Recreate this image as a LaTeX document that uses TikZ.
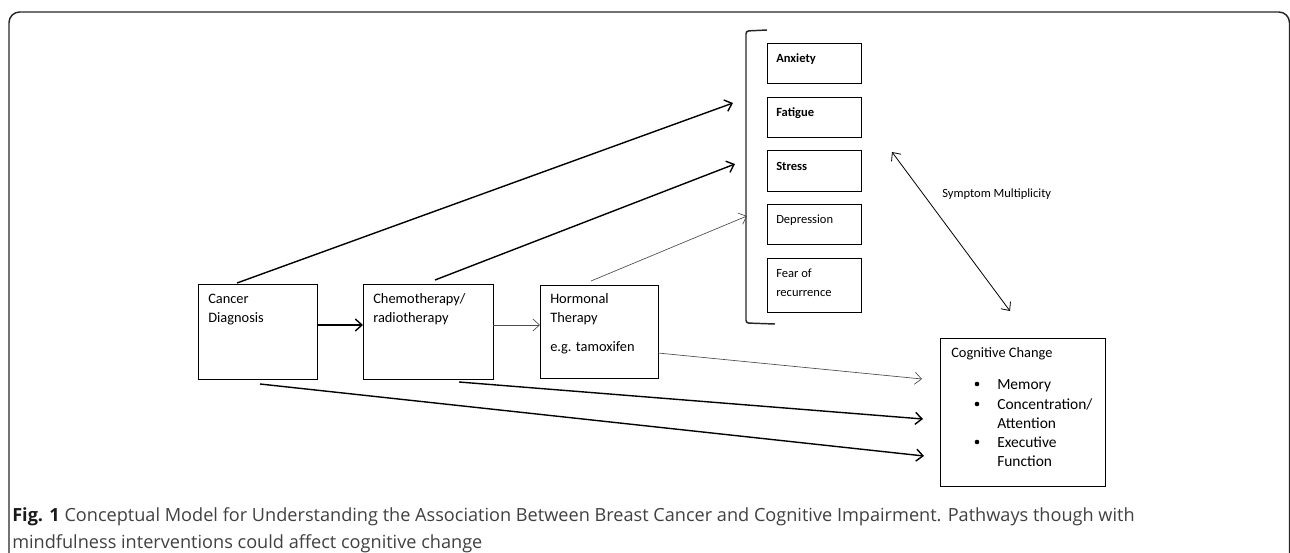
\documentclass[tikz,border=0pt]{standalone}
\usepackage{fontspec}
\setmainfont{Carlito}
\newfontfamily\capfont{Open Sans}
\usetikzlibrary{arrows.meta,calc}
\begin{document}
\begin{tikzpicture}[x=0.75pt,y=-0.75pt,
  box/.style={draw=black,line width=0.75pt,inner sep=0pt,anchor=north west},
  txt/.style={anchor=base west,inner sep=0pt,font=\fontsize{10.8pt}{13pt}\selectfont},
  btxt/.style={anchor=base west,inner sep=0pt,font=\fontsize{11.6pt}{14pt}\selectfont},
  stxt/.style={anchor=base west,inner sep=0pt,font=\fontsize{9.4pt}{12pt}\selectfont},
  thickarr/.style={line width=1.05pt,-{Straight Barb[length=5pt,width=9pt,line width=1.05pt]}},
  thinarr/.style={line width=0.5pt,draw=black!70,-{Straight Barb[length=5pt,width=9pt,line width=0.5pt]}},
  dblarr/.style={line width=0.6pt,{Straight Barb[length=5pt,width=9pt,line width=0.6pt]}-{Straight Barb[length=5pt,width=9pt,line width=0.6pt]}}
]
\useasboundingbox (0,0) rectangle (1290,553);
% outer frame
\draw[line width=1.1pt,black!85,rounded corners=8] (9,560) -- (9,12) -- (1289.5,12) -- (1289.5,560);

% main boxes
\node[box,minimum width=119*0.75pt,minimum height=95*0.75pt] (cd) at (198,284) {};
\node[box,minimum width=130*0.75pt,minimum height=95*0.75pt] (ch) at (363,284) {};
\node[box,minimum width=118*0.75pt,minimum height=93*0.75pt] (ht) at (540,285) {};
\node[txt] (cdt1) at (208,303) {Cancer};
\node[txt] (cdt2) at (208,322) {Diagnosis};
\node[txt] (cht1) at (373,303) {Chemotherapy/};
\node[txt] (cht2) at (373,322) {radiotherapy};
\node[txt] (htt1) at (550,303) {Hormonal};
\node[txt] (htt2) at (550,322) {Therapy};
\node[txt] (htt3) at (550,351) {e.g. tamoxifen};

% symptom boxes
\node[box,minimum width=94*0.75pt,minimum height=40*0.75pt] (anx) at (767,43) {};
\node[box,minimum width=94*0.75pt,minimum height=40*0.75pt] (fat) at (767,97) {};
\node[box,minimum width=94*0.75pt,minimum height=41*0.75pt] (str) at (767,150) {};
\node[box,minimum width=94*0.75pt,minimum height=40*0.75pt] (dep) at (767,204) {};
\node[box,minimum width=94*0.75pt,minimum height=54*0.75pt] (fea) at (767,258) {};
\node[stxt,font=\fontsize{9.4pt}{12pt}\selectfont\bfseries] (anxt) at (776,62) {Anxiety};
\node[stxt,font=\fontsize{9.4pt}{12pt}\selectfont\bfseries] (fatt) at (776,116) {Fatigue};
\node[stxt,font=\fontsize{9.4pt}{12pt}\selectfont\bfseries] (strt) at (776,170) {Stress};
\node[stxt] (dept) at (776,223) {Depression};
\node[stxt] (feat1) at (776,277) {Fear of};
\node[stxt] (feat2) at (776,296) {recurrence};

% bracket
\draw[line width=1.1pt,black!85,rounded corners=2] (767,30) -- (746,31) -- (746,323) -- (775,324);

% cognitive change box
\node[box,minimum width=165*0.75pt,minimum height=148*0.75pt] (cog) at (940,338) {};
\node[txt] (cogt) at (951,357) {Cognitive Change};
\node[btxt] (m1) at (997,389) {Memory};
\node[btxt] (m2) at (997,409) {Concentration/};
\node[btxt] (m3) at (997,428) {Attention};
\node[btxt] (m4) at (997,447) {Executive};
\node[btxt] (m5) at (997,466) {Function};
\foreach \yy/\nm in {384/b1,404/b2,442/b3}
  \fill (977,\yy) circle (2.3);

% symptom multiplicity
\node[stxt] (sm) at (942,197) {Symptom Multiplicity};

% connector endpoints
\coordinate (a1s) at (237,283); \coordinate (a1e) at (733,103);
\coordinate (a2s) at (435,280); \coordinate (a2e) at (735,164);
\coordinate (a3s) at (591,281); \coordinate (a3e) at (747,216);
\coordinate (a4s) at (317,325); \coordinate (a4e) at (363,325);
\coordinate (a5s) at (493,325); \coordinate (a5e) at (540,325);
\coordinate (a6s) at (658,353); \coordinate (a6e) at (922,379);
\coordinate (a7s) at (459,382); \coordinate (a7e) at (923,419);
\coordinate (a8s) at (260,384); \coordinate (a8e) at (924,456);
\coordinate (dbs) at (892,152); \coordinate (dbe) at (1010,311);

\draw[thickarr] (a1s) -- (a1e);
\draw[thickarr] (a2s) -- (a2e);
\draw[thinarr] (a3s) -- (a3e);
\draw[thickarr] (a4s) -- (a4e);
\draw[thinarr] (a5s) -- (a5e);
\draw[thinarr] (a6s) -- (a6e);
\draw[thickarr] (a7s) -- (a7e);
\draw[thickarr] (a8s) -- (a8e);
\draw[dblarr] (dbs) -- (dbe);

% caption
\node[anchor=base west,inner sep=0pt,text=black!75,font=\capfont\fontsize{13.6pt}{16pt}\selectfont] (cap1) at (12,521)
  {{\color{black!90}\bfseries Fig. 1} Conceptual Model for Understanding the Association Between Breast Cancer and Cognitive Impairment. Pathways though with};
\node[anchor=base west,inner sep=0pt,text=black!75,font=\capfont\fontsize{13.6pt}{16pt}\selectfont] (cap2) at (12,548)
  {mindfulness interventions could affect cognitive change};
\end{tikzpicture}
\end{document}
